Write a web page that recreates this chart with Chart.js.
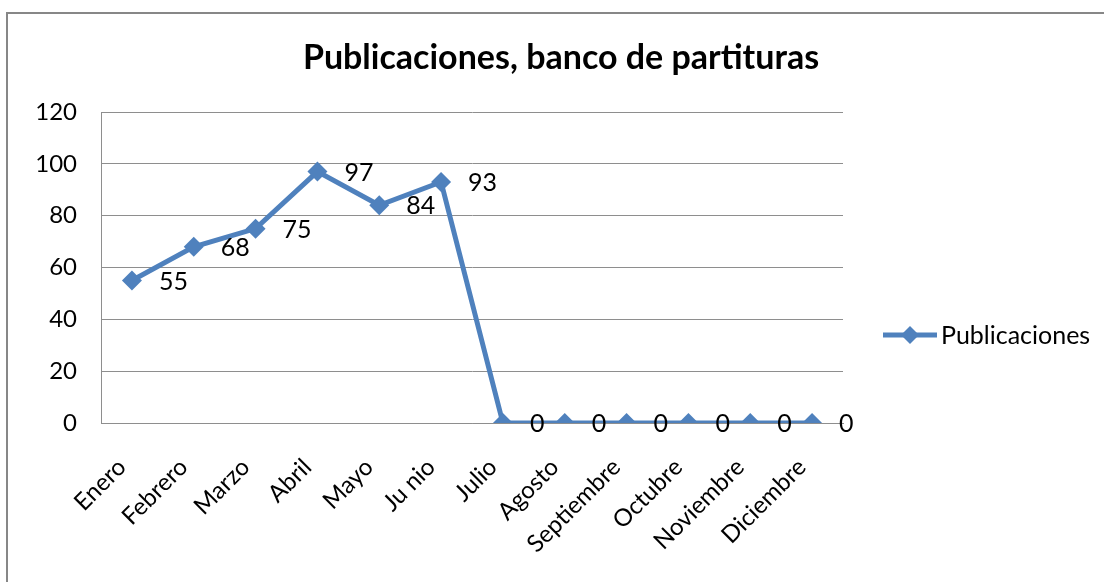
<!DOCTYPE html>
<html>
<head>
<meta charset="utf-8">
<script src="https://cdn.jsdelivr.net/npm/chart.js@4"></script>
<style>
    html, body { margin: 0; padding: 0; background: #fff; overflow: hidden; }
    #frame { position: absolute; left: 6px; top: 12px; width: 1200px; height: 700px; border-left: 2px solid #878787; border-top: 2px solid #878787; }
    #usageChart { position: absolute; left: 0; top: 0; }
</style>
</head>
<body>
<div id="frame"></div>
<canvas id="usageChart" width="1104" height="582"></canvas>
<script>
const chartTitle = "Publicaciones, banco de partituras";
const months = ["Enero", "Febrero", "Marzo", "Abril", "Mayo", "Ju nio", "Julio", "Agosto", "Septiembre", "Octubre", "Noviembre", "Diciembre"];
const publicaciones = [55, 68, 75, 97, 84, 93, 0, 0, 0, 0, 0, 0];
const yTicks = [0, 20, 40, 60, 80, 100, 120];

const blue = "#4F81BD";
const gridGray = "#8E8E8E";
const fontName = "Lato, 'Noto Sans', sans-serif";

// Title, labels to the right of each point, and the legend on the right
const labelsPlugin = {
    id: "pointLabels",
    afterDatasetsDraw(chart) {
        const ctx = chart.ctx;
        const meta = chart.getDatasetMeta(0);
        ctx.save();

        ctx.fillStyle = "#000";
        ctx.font = "bold 34px " + fontName;
        ctx.textAlign = "center";
        ctx.textBaseline = "middle";
        ctx.fillText(chartTitle, 561, 58);

        ctx.font = "25px " + fontName;
        ctx.textAlign = "left";
        meta.data.forEach((pt, i) => {
            ctx.fillText(String(publicaciones[i]), pt.x + 27, pt.y + 1);
        });

        // legend
        const ly = 335;
        ctx.strokeStyle = blue;
        ctx.lineWidth = 5;
        ctx.beginPath();
        ctx.moveTo(883, ly);
        ctx.lineTo(937, ly);
        ctx.stroke();
        ctx.fillStyle = blue;
        ctx.beginPath();
        ctx.moveTo(910, ly - 9);
        ctx.lineTo(919, ly);
        ctx.lineTo(910, ly + 9);
        ctx.lineTo(901, ly);
        ctx.closePath();
        ctx.fill();
        ctx.fillStyle = "#000";
        ctx.fillText(chart.data.datasets[0].label, 941, ly + 1);
        ctx.restore();
    }
};

const ctx = document.getElementById("usageChart").getContext("2d");
new Chart(ctx, {
    type: "line",
    data: {
        labels: months,
        datasets: [
            {
                label: "Publicaciones",
                data: publicaciones,
                borderColor: blue,
                backgroundColor: blue,
                borderWidth: 5,
                pointStyle: "rectRot",
                pointRadius: 10,
                pointBorderWidth: 0,
                fill: false,
                tension: 0
            }
        ]
    },
    options: {
        responsive: false,
        animation: false,
        layout: { padding: { left: 0, right: 261, top: 112, bottom: 0 } },
        plugins: {
            legend: { display: false },
            tooltip: { enabled: false },
            title: { display: false }
        },
        scales: {
            x: {
                offset: true,
                grid: { display: false, drawTicks: false },
                border: { display: true, color: gridGray, width: 1 },
                ticks: {
                    color: "#000",
                    font: { family: fontName, size: 24 },
                    minRotation: 45,
                    maxRotation: 45,
                    padding: 30,
                    labelOffset: -10,
                    autoSkip: false
                },
                afterFit: scale => { scale.height = 159; }
            },
            y: {
                min: 0,
                max: 120,
                afterBuildTicks: scale => { scale.ticks = yTicks.map(v => ({ value: v })); },
                grid: { color: gridGray, lineWidth: 1, drawTicks: false },
                border: { display: true, color: gridGray, width: 1 },
                ticks: {
                    color: "#000",
                    font: { family: fontName, size: 24 },
                    padding: 24
                },
                afterFit: scale => { scale.width = 101; }
            }
        }
    },
    plugins: [labelsPlugin]
});
</script>
</body>
</html>
